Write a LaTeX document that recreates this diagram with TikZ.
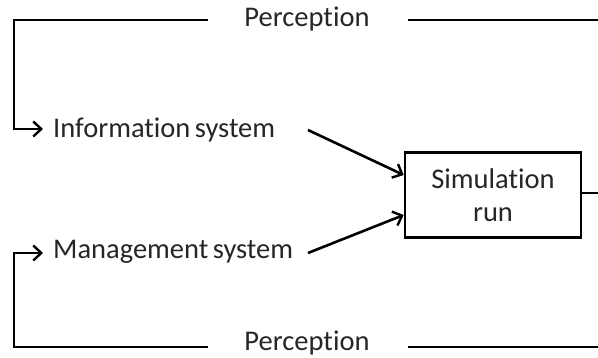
\documentclass[tikz,border=0pt]{standalone}
\usepackage{fontspec}
\setmainfont{Carlito}[Ligatures=NoCommon]
\usetikzlibrary{arrows.meta}
\begin{document}
\begin{tikzpicture}[x=1pt,y=-1pt,
  lbl/.style={inner sep=0pt, font=\fontsize{28.5}{32}\selectfont, text=black!85},
  ln/.style={line width=2.6pt, line cap=butt},
  arr/.style={ln, -{Straight Barb[length=8pt,width=15pt,line width=2.4pt]}},
  simbox/.style={draw, line width=2.6pt, minimum width=176pt, minimum height=85pt, inner sep=0pt, align=center, font=\fontsize{28.5}{33}\selectfont, text=black!85}]
\useasboundingbox (0,0) rectangle (598,358);
\node[lbl, anchor=west] (info) at (53,130) {Information\hspace{-2pt} system};
\node[lbl, anchor=west] (mgmt) at (53,252) {Management\hspace{-2pt} system};
\node[lbl] (ptop) at (307,19) {Perception};
\node[lbl] (pbot) at (307,343) {Perception};
\node[simbox] (sim) at (493,195) {Simulation\\run};
\coordinate (tl) at (14,20);
\coordinate (bl) at (14,347);
\coordinate (tle) at (208,20);
\coordinate (ble) at (208,347);
\coordinate (trs) at (408,20);
\coordinate (tre) at (598,20);
\coordinate (brs) at (408,347);
\coordinate (bre) at (598,347);
\coordinate (sre) at (598,193);
\coordinate (ia) at (43,129);
\coordinate (ma) at (43,253);
\coordinate (is) at (308,130);
\coordinate (ms) at (308,253);
\draw[arr] (tle) -- (tl) -- (tl |- ia) -- (ia);
\draw[arr] (ble) -- (bl) -- (bl |- ma) -- (ma);
\draw[ln] (trs) -- (tre);
\draw[ln] (brs) -- (bre);
\draw[ln] (sim.east |- sre) -- (sre);
\draw[arr] (is) -- (sim.west |- 0,175);
\draw[arr] (ms) -- (sim.west |- 0,215);
\end{tikzpicture}
\end{document}
